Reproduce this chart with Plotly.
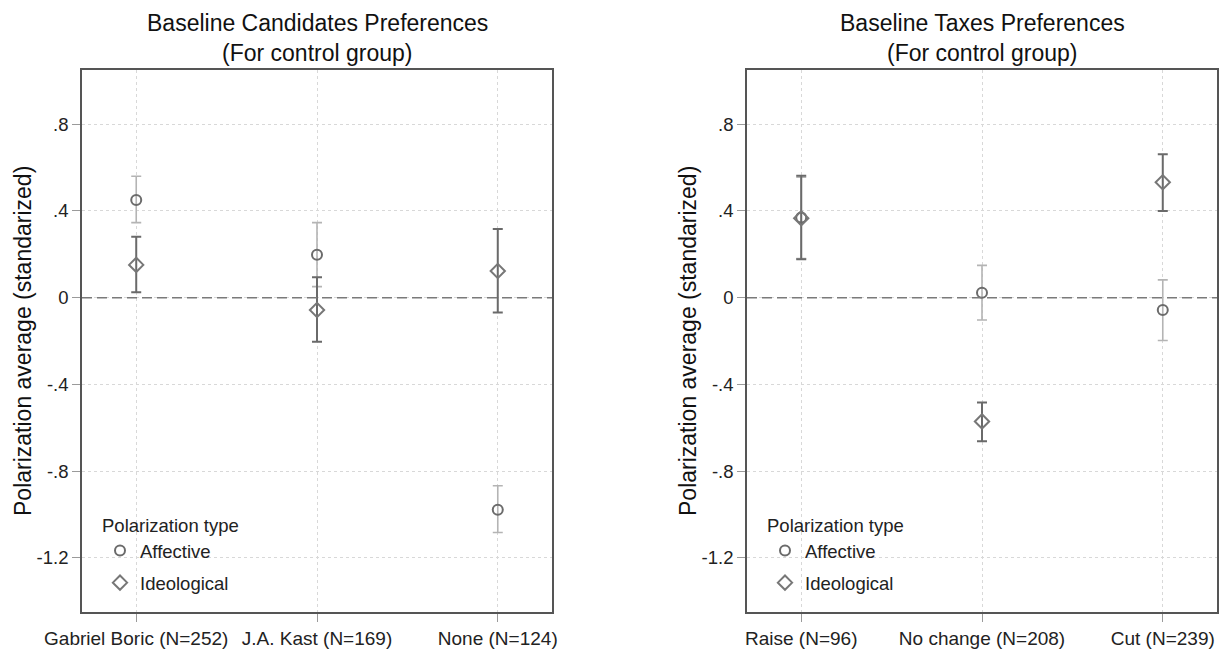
import plotly.graph_objects as go

# ---------------- data ----------------
cand_labels = ["Gabriel Boric (N=252)", "J.A. Kast (N=169)", "None (N=124)"]
cand_aff_mean = [0.450, 0.198, -0.978]
cand_aff_lo = [0.346, 0.051, -1.083]
cand_aff_hi = [0.560, 0.346, -0.868]
cand_ideo_mean = [0.151, -0.057, 0.123]
cand_ideo_lo = [0.025, -0.203, -0.069]
cand_ideo_hi = [0.281, 0.094, 0.317]

tax_labels = ["Raise (N=96)", "No change (N=208)", "Cut (N=239)"]
tax_aff_mean = [0.370, 0.023, -0.057]
tax_aff_lo = [0.180, -0.103, -0.198]
tax_aff_hi = [0.555, 0.149, 0.082]
tax_ideo_mean = [0.366, -0.571, 0.532]
tax_ideo_lo = [0.177, -0.662, 0.400]
tax_ideo_hi = [0.562, -0.484, 0.661]

y_tickvals = [-1.2, -0.8, -0.4, 0, 0.4, 0.8]
y_ticktext = ["-1.2", "-.8", "-.4", "0", ".4", ".8"]
ref_value = 0

titles = [("Baseline Candidates Preferences", "(For control group)"),
          ("Baseline Taxes Preferences", "(For control group)")]
y_title = "Polarization average (standarized)"
legend_title = "Polarization type"

FONT = "Arial, Liberation Sans, sans-serif"
W, H = 1226, 654

AFF_MARK = "#6b6b6b"
AFF_CI = "#b4b4b4"
IDEO_MARK = "#777777"
IDEO_CI = "#6a6a6a"


def err(mean, lo, hi):
    return ([h - m for m, h in zip(mean, hi)], [m - l for m, l in zip(mean, lo)])


fig = go.Figure()

panels = [
    (cand_labels, cand_aff_mean, cand_aff_lo, cand_aff_hi,
     cand_ideo_mean, cand_ideo_lo, cand_ideo_hi, "x", "y", "legend"),
    (tax_labels, tax_aff_mean, tax_aff_lo, tax_aff_hi,
     tax_ideo_mean, tax_ideo_lo, tax_ideo_hi, "x2", "y2", "legend2"),
]

for (labels, am, alo, ahi, im, ilo, ihi, xa, ya, lg) in panels:
    up, dn = err(am, alo, ahi)
    fig.add_trace(go.Scatter(
        x=labels, y=am, mode="markers", name="Affective",
        xaxis=xa, yaxis=ya, legend=lg, legendgroup=lg + "a",
        marker=dict(symbol="circle-open", size=10, color=AFF_MARK,
                    line=dict(width=2, color=AFF_MARK)),
        error_y=dict(type="data", symmetric=False, array=up, arrayminus=dn,
                     color=AFF_CI, thickness=1.6, width=5),
        hoverinfo="x+y",
    ))
    up, dn = err(im, ilo, ihi)
    fig.add_trace(go.Scatter(
        x=labels, y=im, mode="markers", name="Ideological",
        xaxis=xa, yaxis=ya, legend=lg, legendgroup=lg + "i",
        marker=dict(symbol="diamond-open", size=11, color=IDEO_MARK,
                    line=dict(width=2, color=IDEO_MARK)),
        error_y=dict(type="data", symmetric=False, array=up, arrayminus=dn,
                     color=IDEO_CI, thickness=2, width=5),
        hoverinfo="x+y",
    ))

# geometry (pixels)
box_left = [82, 747]
box_w = 470
box_top, box_bottom = 70, 612

axis_common = dict(
    showline=True, mirror=True, linecolor="#555555", linewidth=1.6,
    ticks="outside", ticklen=8, tickcolor="#9a9a9a", tickwidth=1,
    showgrid=True, gridcolor="#d8d8d8", griddash="dot", gridwidth=1,
    zeroline=False, automargin=False,
    tickfont=dict(family=FONT, size=18.5, color="#222222"),
)

ydom = [1 - box_bottom / H, 1 - box_top / H]
layout_axes = {}
for i, (bl, labels) in enumerate(zip(box_left, [cand_labels, tax_labels])):
    sfx = "" if i == 0 else "2"
    layout_axes["xaxis" + sfx] = dict(
        axis_common, domain=[bl / W, (bl + box_w) / W],
        type="category", categoryorder="array", categoryarray=labels,
        range=[-0.3, 2.3], anchor="y" + sfx,
        tickfont=dict(family=FONT, size=19, color="#222222"),
    )
    layout_axes["yaxis" + sfx] = dict(
        axis_common, domain=ydom, range=[-1.45, 1.05],
        tickvals=y_tickvals, ticktext=y_ticktext, anchor="x" + sfx,
    )

shapes = []
annotations = []
for i, bl in enumerate(box_left):
    sfx = "" if i == 0 else "2"
    shapes.append(dict(
        type="line", xref=("x" + sfx + " domain"), x0=0, x1=1,
        yref="y" + sfx, y0=ref_value, y1=ref_value,
        line=dict(color="#7a7a7a", width=1.5, dash="10px,5px"),
    ))
    cx = (bl + box_w / 2) / W
    annotations.append(dict(
        text=titles[i][0], x=cx, y=1 - 23 / H, xref="paper", yref="paper",
        xanchor="center", yanchor="middle", showarrow=False,
        font=dict(family=FONT, size=23, color="#111111")))
    annotations.append(dict(
        text=titles[i][1], x=cx, y=1 - 53 / H, xref="paper", yref="paper",
        xanchor="center", yanchor="middle", showarrow=False,
        font=dict(family=FONT, size=23, color="#111111")))
    annotations.append(dict(
        text=y_title, x=(bl - 59) / W, y=1 - ((box_top + box_bottom) / 2) / H,
        xref="paper", yref="paper", xanchor="center", yanchor="middle",
        textangle=-90, showarrow=False,
        font=dict(family=FONT, size=23, color="#111111")))

legend_common = dict(
    title=dict(text=legend_title, font=dict(family=FONT, size=18.5, color="#222222")),
    font=dict(family=FONT, size=18.5, color="#222222"),
    bgcolor="rgba(0,0,0,0)", borderwidth=0,
    traceorder="grouped", tracegroupgap=5,
    xanchor="left", yanchor="top", itemclick=False, itemdoubleclick=False,
)

fig.update_layout(
    width=W, height=H,
    margin=dict(l=0, r=0, t=0, b=0, autoexpand=False),
    paper_bgcolor="white", plot_bgcolor="white",
    showlegend=True,
    legend=dict(legend_common, x=100 / W, y=1 - 508 / H),
    legend2=dict(legend_common, x=765 / W, y=1 - 508 / H),
    shapes=shapes, annotations=annotations,
    **layout_axes,
)

fig.write_html("out.html")
